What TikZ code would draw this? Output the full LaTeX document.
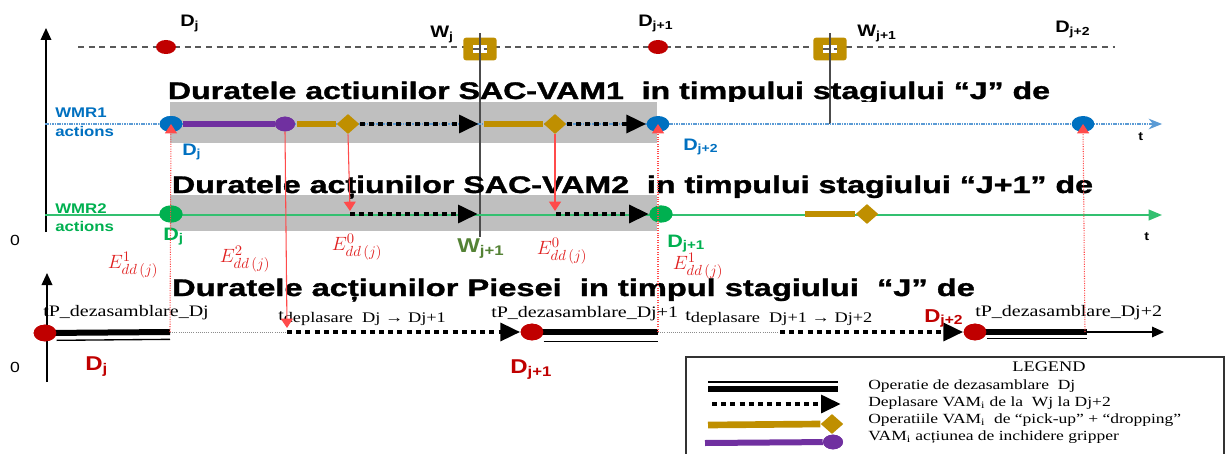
\documentclass[tikz,border=0pt]{standalone}
\usepackage{fontspec}
\usepackage{graphicx}
\usetikzlibrary{arrows.meta,shapes.geometric}
\setmainfont{Liberation Serif}[FakeStretch=1.25]
\newfontfamily\labelfont{Liberation Sans}[FakeStretch=1.2]
\newfontfamily\headfont{Liberation Sans}[BoldFeatures={FakeBold=1.2}]

\definecolor{wblue}{HTML}{0070C0}
\definecolor{lblue}{HTML}{5B9BD5}
\definecolor{wgreen}{HTML}{00B050}
\definecolor{lgreen}{HTML}{33C070}
\definecolor{wolive}{HTML}{548235}
\definecolor{wgold}{HTML}{BF8F00}
\definecolor{wpurple}{HTML}{7030A0}
\definecolor{dred}{HTML}{C00000}
\definecolor{lred}{HTML}{FF4B4B}
\definecolor{ered}{HTML}{E02020}
\definecolor{band}{HTML}{BFBFBF}

% stretched bold heading of a fixed width
\newcommand\headline[2]{\resizebox{#1}{\height}{\headfont\bfseries\fontsize{18}{20}\selectfont #2}}

\tikzset{
  every node/.style={inner sep=0pt},
  sanslab/.style={anchor=base west, font=\labelfont\bfseries\fontsize{#1}{#1}\selectfont},
  serlab/.style={anchor=base west, font=\fontsize{12}{14}\selectfont},
  legtxt/.style={anchor=west, font=\fontsize{10.5}{12}\selectfont},
  elab/.style={text=ered, font=\fontsize{15.5}{17}\selectfont},
  redpt/.style={ellipse, fill=dred, minimum width=15pt, minimum height=10.5pt},
  bigredpt/.style={ellipse, fill=dred, minimum width=17pt, minimum height=12.5pt},
  bluept/.style={ellipse, fill=wblue, minimum width=17pt, minimum height=12pt},
  greenpt/.style={ellipse, fill=wgreen, minimum width=17.5pt, minimum height=13pt},
  purpt/.style={ellipse, fill=wpurple, minimum width=15pt, minimum height=11pt},
  golddia/.style={diamond, fill=wgold, minimum width=17pt, minimum height=15pt},
  wbox/.style={rectangle, rounded corners=2pt, fill=wgold, minimum width=25pt, minimum height=17pt},
  wboxin/.style={rectangle, fill=white, minimum width=10pt, minimum height=5.5pt},
  axis/.style={line width=1.1pt, -{Triangle[length=9pt,width=8pt]}},
  topdash/.style={line width=1.1pt, black!65, dash pattern=on 4.5pt off 3.5pt},
  wmrone/.style={line width=0.9pt, lblue, dash pattern=on 1.2pt off 0.6pt, -{Stealth[length=10pt,width=8pt]}},
  wmrtwo/.style={line width=1.4pt, lgreen, -{Triangle[length=10pt,width=8pt]}},
  purline/.style={line width=4.5pt, wpurple},
  goldline/.style={line width=5pt, wgold},
  dotmove/.style={line width=3.7pt, black, dash pattern=on 3.7pt off 3.2pt, -{Triangle[length=15pt,width=13pt]}},
  opthick/.style={line width=4.5pt, black},
  opthin/.style={line width=1pt, black},
  redline/.style={line width=0.8pt, lred, -{Triangle[length=7pt,width=9pt]}},
  reddot/.style={line width=0.8pt, lred, densely dotted, -{Triangle[length=7pt,width=9pt]}},
  guide/.style={line width=0.8pt, black!70},
}

\begin{document}
\begin{tikzpicture}[x=0.75pt, y=-0.75pt]
\useasboundingbox (0,0) rectangle (1227,453);

% ---------- shaded bands of the two robot time lines ----------
\fill[band] (170,102) rectangle (657,143);
\fill[band] (170,195) rectangle (657,231);

% ---------- vertical axes ----------
\draw[axis] (46,232) -- (46,28);
\draw[axis] (47,382) -- (47,273);
\node[font=\labelfont\fontsize{11}{12}\selectfont] (zero1) at (15,240) {0};
\node[font=\labelfont\fontsize{11}{12}\selectfont] (zero2) at (15,367) {0};

% ---------- station line ----------
\coordinate (topL) at (78,47);
\coordinate (topR) at (1115,47);
\draw[topdash] (topL) -- (topR);
\node[redpt] (dt1) at (166,47) {};
\node[redpt] (dt2) at (658,47) {};
\node[wbox] (w1) at (480,49) {};
\node[wboxin] (w1i) at (480,49) {};
\node[wbox] (w2) at (830,49) {};
\node[wboxin] (w2i) at (830,49) {};
\draw[topdash] (w1i.west) -- (w1i.east);
\draw[topdash] (w2i.west) -- (w2i.east);
\coordinate (w1top) at (480,33);
\coordinate (w1bot) at (480,237);
\coordinate (w2top) at (830,33);
\coordinate (w2bot) at (830,124);
\draw[guide] (w1top) -- (w1bot);
\draw[guide] (w2top) -- (w2bot);

\node[sanslab=12.5] (ldt1) at (180,27) {D\textsubscript{j}};
\node[sanslab=12.5] (lw1) at (430,38) {W\textsubscript{j}};
\node[sanslab=12.5] (ldt2) at (638,27) {D\textsubscript{j+1}};
\node[sanslab=12.5] (lw2) at (857,37) {W\textsubscript{j+1}};
\node[sanslab=12.5] (ldt3) at (1055,33) {D\textsubscript{j+2}};

% ---------- headings ----------
\begin{scope}
\clip (0,0) rectangle (1227,101.5);
\node[anchor=base] (h1) at (609,99) {\headline{661.5pt}{Duratele actiunilor SAC-VAM1\ \ in timpului stagiului “J” de}};
\end{scope}
\node[anchor=base] (h2) at (632.5,193) {\headline{690.7pt}{Duratele acțiunilor SAC-VAM2\ \ in timpului stagiului “J+1” de}};
\node[anchor=base] (h3) at (573.5,296) {\headline{602pt}{Duratele acțiunilor Piesei\ \ in timpul stagiului\ \ “J” de}};

% ---------- WMR1 time line ----------
\coordinate (a1L) at (45,124);
\coordinate (a1R) at (1162,124);
\draw[wmrone] (a1L) -- (a1R);
\node[sanslab=10.5, text=wblue] (wmr1a) at (55,117) {WMR1};
\node[sanslab=10.5, text=wblue] (wmr1b) at (55,136) {actions};
\node[sanslab=9] (t1) at (1138,140) {t};

\node[bluept] (b1) at (171,124) {};
\node[purpt] (p1) at (285,124) {};
\draw[purline] (b1) -- (p1);
\node[bluept] (b1) at (171,124) {};
\node[purpt] (p1) at (285,124) {};
\coordinate (g1s) at (297,124);
\node[golddia] (gd1) at (348,124) {};
\draw[goldline] (g1s) -- (gd1.west);
\coordinate (m1e) at (479,124);
\draw[dotmove] (gd1.east) -- (m1e);
\coordinate (g2s) at (484,124);
\node[golddia] (gd2) at (555,124) {};
\draw[goldline] (g2s) -- (gd2.west);
\node[bluept] (b2) at (658,124) {};
\draw[dotmove] (gd2.east) -- (b2.west);
\node[bluept] (b3) at (1083,124) {};

\node[sanslab=12.5, text=wblue] (lb1) at (182,155) {D\textsubscript{j}};
\node[sanslab=12.5, text=wblue] (lb2) at (683,150) {D\textsubscript{j+2}};

% ---------- WMR2 time line ----------
\coordinate (a2L) at (45,215);
\coordinate (a2R) at (1162,215);
\draw[wmrtwo] (a2L) -- (a2R);
\node[sanslab=10.5, text=wgreen] (wmr2a) at (55,213) {WMR2};
\node[sanslab=10.5, text=wgreen] (wmr2b) at (55,231) {actions};
\node[sanslab=9] (t2) at (1144,240) {t};

\node[greenpt] (gr1) at (171,214) {};
\node[greenpt] (gr2) at (661,214) {};
\coordinate (s1) at (350,214);
\coordinate (s1e) at (478,214);
\draw[dotmove] (s1) -- (s1e);
\coordinate (s2) at (556,214);
\draw[dotmove] (s2) -- (gr2.west);
\coordinate (g3s) at (805,214);
\node[golddia] (gd3) at (867,214) {};
\draw[goldline] (g3s) -- (gd3.west);

\node[sanslab=13.5, text=wgreen] (lg1) at (163,240) {D\textsubscript{j}};
\node[sanslab=13.5, text=wgreen] (lg2) at (667,247) {D\textsubscript{j+1}};
\node[sanslab=15, text=wolive] (lw3) at (457,252) {W\textsubscript{j+1}};

% ---------- part time line ----------
\node[bigredpt] (r1) at (45,333) {};
\node[bigredpt] (r2) at (532,332) {};
\node[bigredpt] (r3) at (975,332) {};
\coordinate (e1) at (170,332);
\coordinate (e2) at (658,332);
\coordinate (e3) at (1087,332);
\coordinate (endL) at (1164,332);
\coordinate (m3s) at (287,332);
\coordinate (m4s) at (780,332);

\draw[line width=0.6pt, black!45, densely dotted] (e1) -- (m3s);
\draw[line width=0.6pt, black!45, densely dotted] (e2) -- (m4s);
\draw[line width=0.8pt, -{Triangle[length=9pt,width=8pt]}] (e3) -- (endL);
\draw[opthick] (r1.center) -- (e1);
\draw[opthin] ([yshift=-5.5pt]r1.east) -- ([yshift=-5.5pt]e1);
\draw[opthick] (r2.center) -- (e2);
\draw[opthin] ([yshift=-7pt]r2.east) -- ([yshift=-7pt]e2);
\draw[opthick] (r3.center) -- (e3);
\draw[opthin] ([yshift=-5pt]r3.east) -- ([yshift=-5pt]e3);
\draw[dotmove] (m3s) -- (r2.west);
\draw[dotmove] (m4s) -- (r3.west);
\node[bigredpt] (r1) at (45,333) {};
\node[bigredpt] (r2) at (532,332) {};
\node[bigredpt] (r3) at (975,332) {};

\node[serlab] (tp1) at (43,316) {tP\_dezasamblare\_Dj};
\node[serlab] (tp2) at (491,317) {tP\_dezasamblare\_Dj+1};
\node[serlab] (tp3) at (975,316) {tP\_dezasamblare\_Dj+2};
\node[serlab] (td1) at (278,320) {t\raisebox{-2pt}{\fontsize{11}{12}\selectfont deplasare\ \ Dj → Dj+1}};
\node[serlab] (td2) at (685,320) {t\raisebox{-2pt}{\fontsize{11}{12}\selectfont deplasare\ \ Dj+1 → Dj+2}};

\node[sanslab=15, text=dred] (lr1) at (85,370) {D\textsubscript{j}};
\node[sanslab=15, text=dred] (lr2) at (510,373) {D\textsubscript{j+1}};
\node[sanslab=14, text=dred] (lr3) at (924,322) {D\textsubscript{j+2}};

% ---------- event links between the time lines ----------
\coordinate (q1) at (287,328);
\coordinate (q2) at (350,211);
\coordinate (q3) at (555,211);
\draw[redline] (p1.south) -- (q1);
\draw[redline] (gd1.south) -- (q2);
\draw[redline] (gd2.south) -- (q3);
\coordinate (u1) at (170,332);
\coordinate (u2) at (658,332);
\coordinate (u3) at (1085,332);
\draw[reddot] (u1) -- (b1.center);
\draw[reddot] (u2) -- (b2.center);
\draw[reddot] (u3) -- (b3.center);

\node[elab] (ea) at (133,265) {$E^{1}_{dd\,(j)}$};
\node[elab] (eb) at (245,259) {$E^{2}_{dd\,(j)}$};
\node[elab] (ec) at (357,247) {$E^{0}_{dd\,(j)}$};
\node[elab] (ed) at (562,251) {$E^{0}_{dd\,(j)}$};
\node[elab] (ee) at (698,266) {$E^{1}_{dd\,(j)}$};

% ---------- legend ----------
\coordinate (lgA) at (686,460);
\coordinate (lgB) at (686,357);
\coordinate (lgC) at (1224,357);
\coordinate (lgD) at (1224,460);
\draw[line width=1.1pt, black!80] (lgA) -- (lgB) -- (lgC) -- (lgD);
\node[font=\fontsize{11}{12}\selectfont] (lgT) at (1049,367) {LEGEND};

\coordinate (k1a) at (708,382); \coordinate (k1b) at (838,382);
\coordinate (k2a) at (708,389); \coordinate (k2b) at (838,389);
\draw[opthin] (k1a) -- (k1b);
\draw[opthick] (k2a) -- (k2b);
\coordinate (k3a) at (712,404); \coordinate (k3b) at (841,404);
\draw[dotmove] (k3a) -- (k3b);
\coordinate (k4a) at (708,425);
\node[golddia] (k4d) at (832,424) {};
\draw[goldline] (k4a) -- (k4d.west);
\coordinate (k5a) at (705,443);
\node[purpt] (k5c) at (833,442) {};
\draw[purline] (k5a) -- (k5c);
\node[purpt] (k5c) at (833,442) {};

\node[legtxt] (lt1) at (868,386) {Operatie de dezasamblare\ \ Dj};
\node[legtxt] (lt2) at (868,403) {Deplasare VAM\textsubscript{i} de la\ \ Wj la Dj+2};
\node[legtxt] (lt3) at (868,420) {Operatiile VAM\textsubscript{i}\ \ de “pick-up” + “dropping”};
\node[legtxt] (lt4) at (868,437) {VAM\textsubscript{i} acțiunea de inchidere gripper};
\end{tikzpicture}
\end{document}
